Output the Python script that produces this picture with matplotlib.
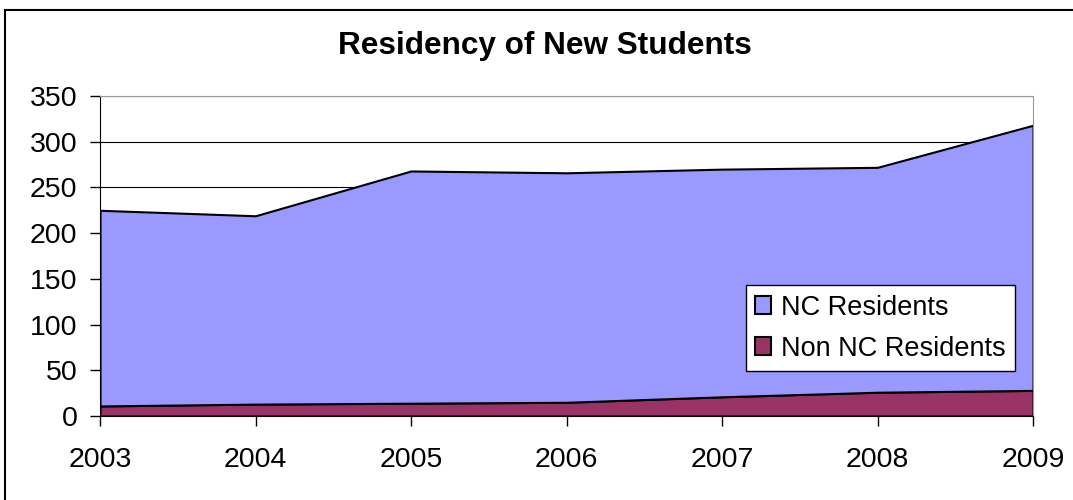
import matplotlib.pyplot as plt
from matplotlib.patches import Rectangle

plt.rcParams['font.family'] = ['Liberation Sans', 'DejaVu Sans']

years = [2003, 2004, 2005, 2006, 2007, 2008, 2009]
non_nc = [11, 13, 14, 15, 21, 26, 28]
nc = [214, 206, 254, 251, 249, 246, 290]
labels = ["Non NC Residents", "NC Residents"]
colors = ["#993366", "#9999FF"]

fig = plt.figure(figsize=(10.73, 5.0), dpi=100)
ax = fig.add_axes([100 / 1073, 1 - 416 / 500, 933 / 1073, 320 / 500])

# outer chart border (right and bottom edges run off the image)
fig.patches.append(Rectangle((5 / 1073, -0.1), 1.1, 1.1 - 10 / 500, transform=fig.transFigure,
                             fill=False, edgecolor="black", linewidth=1.5))

polys = ax.stackplot(years, non_nc, nc, labels=labels, colors=colors,
                     edgecolor="black", linewidth=1.5, zorder=2)

ax.set_xlim(years[0], years[-1])
ax.set_ylim(0, 350)
ax.set_yticks(range(0, 351, 50))
ax.set_xticks(years)
ax.grid(axis="y", color="black", linewidth=0.8, zorder=1)
ax.set_axisbelow(True)

for side in ["top", "right"]:
    ax.spines[side].set_color("#999999")
for side in ["left", "bottom"]:
    ax.spines[side].set_color("black")
ax.tick_params(axis="both", direction="out", length=7.2, width=1, labelsize=20.5, colors="black")
ax.tick_params(axis="y", pad=9)
ax.tick_params(axis="x", pad=15)

fig.text(545 / 1073, 1 - 46 / 500, "Residency of New Students", ha="center", va="center",
         fontsize=22.7, fontweight="bold")

handles = [polys[1], polys[0]]
leg = ax.legend(handles, [labels[1], labels[0]], loc="lower right",
                bbox_to_anchor=(1015 / 1073, 1 - 371 / 500), bbox_transform=fig.transFigure,
                fontsize=19.5, frameon=True, fancybox=False, framealpha=1, edgecolor="black",
                handlelength=0.6, handleheight=0.6, handletextpad=0.35, borderpad=0.35,
                labelspacing=0.55, borderaxespad=0)
leg.get_frame().set_linewidth(1)
for h in leg.legend_handles:
    h.set_linewidth(1.5)

fig.savefig("out.png", dpi=100)
